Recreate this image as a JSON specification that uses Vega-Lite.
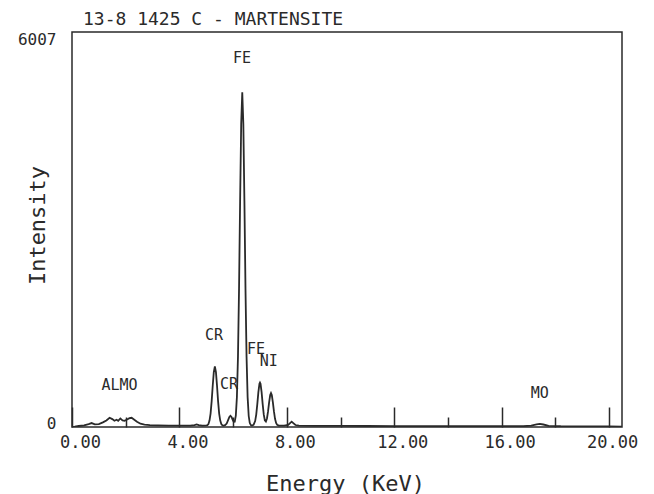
{
  "$schema": "https://vega.github.io/schema/vega-lite/v6.json",
  "autosize": "none",
  "width": 550,
  "height": 395,
  "padding": {"left": 72, "top": 32, "right": 32, "bottom": 67},
  "background": "white",
  "title": {
    "text": "13-8 1425 C - MARTENSITE",
    "anchor": "start",
    "frame": "group",
    "dx": 11,
    "dy": 20,
    "offset": 8,
    "baseline": "alphabetic",
    "font": "DejaVu Sans Mono",
    "fontSize": 18,
    "fontWeight": "normal",
    "color": "#2a2a2a"
  },
  "config": {
    "view": {"stroke": "#2a2a2a", "strokeWidth": 1.5},
    "axis": {"grid": false, "labelFont": "DejaVu Sans Mono", "titleFont": "DejaVu Sans Mono", "labelColor": "#2a2a2a", "titleColor": "#2a2a2a", "titleFontWeight": "normal"}
  },
  "datasets": {
    "spectrum": [
      {"e": 0.00, "i": 0}, {"e": 0.10, "i": 5}, {"e": 0.25, "i": 15}, {"e": 0.45, "i": 25},
      {"e": 0.62, "i": 45}, {"e": 0.73, "i": 60}, {"e": 0.85, "i": 40}, {"e": 1.00, "i": 45},
      {"e": 1.15, "i": 70}, {"e": 1.28, "i": 100}, {"e": 1.40, "i": 140}, {"e": 1.50, "i": 120},
      {"e": 1.58, "i": 95}, {"e": 1.66, "i": 110}, {"e": 1.72, "i": 95}, {"e": 1.80, "i": 130},
      {"e": 1.88, "i": 100}, {"e": 1.96, "i": 95}, {"e": 2.05, "i": 115}, {"e": 2.14, "i": 135},
      {"e": 2.22, "i": 140}, {"e": 2.32, "i": 110}, {"e": 2.42, "i": 80}, {"e": 2.55, "i": 50},
      {"e": 2.70, "i": 35}, {"e": 2.90, "i": 28}, {"e": 3.20, "i": 24}, {"e": 3.60, "i": 22},
      {"e": 4.00, "i": 20}, {"e": 4.40, "i": 22}, {"e": 4.56, "i": 30}, {"e": 4.64, "i": 40},
      {"e": 4.72, "i": 28}, {"e": 4.85, "i": 22}, {"e": 5.00, "i": 24}, {"e": 5.04, "i": 27},
      {"e": 5.08, "i": 46}, {"e": 5.12, "i": 97}, {"e": 5.16, "i": 205}, {"e": 5.20, "i": 390},
      {"e": 5.24, "i": 627}, {"e": 5.28, "i": 835}, {"e": 5.32, "i": 920}, {"e": 5.36, "i": 835},
      {"e": 5.40, "i": 627}, {"e": 5.44, "i": 390}, {"e": 5.48, "i": 205}, {"e": 5.52, "i": 97},
      {"e": 5.56, "i": 46}, {"e": 5.60, "i": 27}, {"e": 5.64, "i": 21}, {"e": 5.70, "i": 27},
      {"e": 5.76, "i": 52}, {"e": 5.82, "i": 111}, {"e": 5.86, "i": 152}, {"e": 5.90, "i": 170},
      {"e": 5.94, "i": 152}, {"e": 5.98, "i": 111}, {"e": 6.02, "i": 78}, {"e": 6.06, "i": 80},
      {"e": 6.10, "i": 174}, {"e": 6.14, "i": 453}, {"e": 6.18, "i": 1064}, {"e": 6.22, "i": 2104},
      {"e": 6.26, "i": 3437}, {"e": 6.30, "i": 4613}, {"e": 6.34, "i": 5090}, {"e": 6.38, "i": 4613},
      {"e": 6.42, "i": 3437}, {"e": 6.46, "i": 2104}, {"e": 6.50, "i": 1064}, {"e": 6.54, "i": 451},
      {"e": 6.58, "i": 167}, {"e": 6.62, "i": 60}, {"e": 6.66, "i": 29}, {"e": 6.70, "i": 23},
      {"e": 6.76, "i": 32}, {"e": 6.82, "i": 90}, {"e": 6.86, "i": 189}, {"e": 6.90, "i": 348},
      {"e": 6.94, "i": 531}, {"e": 6.98, "i": 657}, {"e": 7.00, "i": 675}, {"e": 7.02, "i": 657},
      {"e": 7.06, "i": 531}, {"e": 7.10, "i": 349}, {"e": 7.14, "i": 192}, {"e": 7.18, "i": 103},
      {"e": 7.22, "i": 84}, {"e": 7.26, "i": 130}, {"e": 7.30, "i": 236}, {"e": 7.34, "i": 373},
      {"e": 7.38, "i": 485}, {"e": 7.41, "i": 515}, {"e": 7.44, "i": 485}, {"e": 7.48, "i": 373},
      {"e": 7.52, "i": 236}, {"e": 7.56, "i": 124}, {"e": 7.60, "i": 61}, {"e": 7.64, "i": 33},
      {"e": 7.70, "i": 22}, {"e": 7.90, "i": 20}, {"e": 8.05, "i": 32}, {"e": 8.12, "i": 60},
      {"e": 8.18, "i": 82}, {"e": 8.24, "i": 60}, {"e": 8.32, "i": 30}, {"e": 8.45, "i": 20},
      {"e": 9.00, "i": 18}, {"e": 10.00, "i": 16}, {"e": 11.00, "i": 15}, {"e": 12.00, "i": 14},
      {"e": 13.00, "i": 13}, {"e": 14.00, "i": 12}, {"e": 15.00, "i": 12}, {"e": 16.00, "i": 12},
      {"e": 16.80, "i": 13}, {"e": 17.10, "i": 22}, {"e": 17.30, "i": 40}, {"e": 17.42, "i": 48},
      {"e": 17.55, "i": 38}, {"e": 17.75, "i": 18}, {"e": 18.20, "i": 12}, {"e": 19.00, "i": 10},
      {"e": 20.00, "i": 8}, {"e": 20.48, "i": 6}
    ],
    "labels": [
      {"label": "FE", "e": 6.33, "i": 5605},
      {"label": "CR", "e": 5.29, "i": 1399},
      {"label": "CR", "e": 5.85, "i": 654},
      {"label": "FE", "e": 6.85, "i": 1186},
      {"label": "NI", "e": 7.33, "i": 1004},
      {"label": "ALMO", "e": 1.77, "i": 639},
      {"label": "MO", "e": 17.42, "i": 517}
    ]
  },
  "layer": [
    {
      "data": {"name": "spectrum"},
      "mark": {"type": "line", "color": "#2a2a2a", "strokeWidth": 1.8, "clip": true},
      "encoding": {
        "x": {
          "field": "e", "type": "quantitative",
          "scale": {"domain": [0, 20.48], "nice": false, "zero": false},
          "axis": {
            "title": "Energy (KeV)",
            "titleFontSize": 22,
            "titleX": 273,
            "titleY": 56,
            "titleBaseline": "middle",
            "values": [2, 4, 6, 8, 10, 12, 14, 16, 18, 20, 0],
            "labelExpr": "datum.value % 4 === 0 ? format(datum.value, '.2f') : ''",
            "labelFontSize": 17,
            "labelFlush": false,
            "labelOverlap": false,
            "labelPadding": 27,
            "labelBaseline": "top",
            "labelOffset": {"condition": {"test": "datum.value >= 20", "value": 3}, "value": 8},
            "domain": false,
            "ticks": true,
            "tickColor": "#2a2a2a",
            "tickWidth": 1.5,
            "tickSize": {"condition": {"test": "datum.value % 4 === 0", "value": -20}, "value": -10}
          }
        },
        "y": {
          "field": "i", "type": "quantitative",
          "scale": {"domain": [0, 6007], "nice": false},
          "axis": {
            "title": "Intensity",
            "titleFontSize": 22,
            "titleX": -35,
            "titleY": 193,
            "titleAlign": "center",
            "titleBaseline": "middle",
            "values": [0, 6007],
            "format": "d",
            "labelFontSize": 16,
            "labelPadding": 16,
            "labelOverlap": false,
            "labelFlush": false,
            "labelOffset": {"condition": {"test": "datum.value > 0", "value": 7}, "value": -4},
            "ticks": false,
            "domain": false
          }
        }
      }
    },
    {
      "data": {"name": "labels"},
      "mark": {"type": "text", "font": "DejaVu Sans Mono", "fontSize": 15, "color": "#2a2a2a", "align": "center", "baseline": "middle"},
      "encoding": {
        "x": {"field": "e", "type": "quantitative"},
        "y": {"field": "i", "type": "quantitative"},
        "text": {"field": "label", "type": "nominal"}
      }
    }
  ]
}
